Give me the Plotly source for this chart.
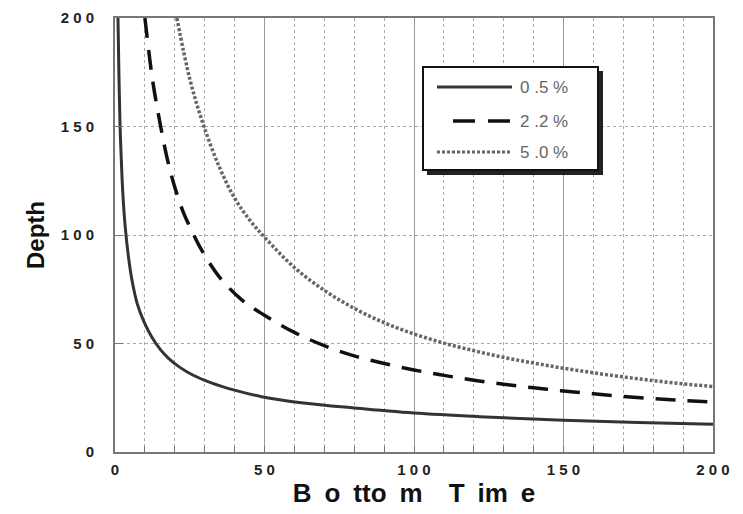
import plotly.graph_objects as go

# ---- data ----
x_05 = [1.0, 1.3, 1.7, 2.3, 2.8, 3.4, 4.5, 5.7, 7.5, 9.7, 12.5, 15, 18, 21.7, 26, 32, 40, 49, 63, 80, 100, 122, 150, 175, 200]
y_05 = [200, 175, 150, 128, 115, 104, 90, 79, 68, 60, 52.5, 47.5, 43, 39, 35.5, 32, 28.5, 25.5, 22.6, 20.3, 18, 16.3, 14.6, 13.6, 12.8]

x_22 = [10, 12.5, 15, 17.5, 20, 23, 26, 29, 35, 42.5, 50, 60, 70, 80, 90, 100, 110, 120, 130, 140, 150, 160, 170, 180, 190, 200]
y_22 = [200, 172, 152, 135, 122, 110, 101, 93, 80.5, 70, 63, 55.1, 49, 44.3, 40.8, 37.8, 35.3, 33.1, 31.2, 29.6, 28.1, 26.8, 25.6, 24.6, 23.7, 23]

x_50 = [20.7, 25, 29.5, 35, 40, 45, 50, 60, 70, 80, 90, 100, 110, 120, 130, 140, 150, 160, 170, 180, 190, 200]
y_50 = [200, 172, 151, 131, 117, 107, 99, 85, 74.5, 66.2, 59.6, 54.4, 50.2, 46.7, 43.6, 41, 38.6, 36.5, 34.6, 32.9, 31.4, 30.2]

series_names = ["0.5 %", "2.2 %", "5.0 %"]
legend_labels = ["0 .5 %", "2 .2 %", "5 .0 %"]
tick_vals = [0, 50, 100, 150, 200]
tick_text = ["0", "5 0", "1 0 0", "1 5 0", "2 0 0"]
x_title = "B\u2002o\u2002tto\u2002m\u2003T\u2002im\u2002e"
y_title = "Depth"

FONT = "Liberation Sans, Arial, sans-serif"

fig = go.Figure()
fig.add_trace(go.Scatter(x=x_05, y=y_05, mode="lines", name=series_names[0],
                         line=dict(color="#333333", width=3, shape="spline", smoothing=1.0)))
fig.add_trace(go.Scatter(x=x_22, y=y_22, mode="lines", name=series_names[1],
                         line=dict(color="#111111", width=3.5, dash="20px,12px", shape="spline", smoothing=1.0)))
fig.add_trace(go.Scatter(x=x_50, y=y_50, mode="lines", name=series_names[2],
                         line=dict(color="#666666", width=3.5, dash="3px,2px", shape="spline", smoothing=1.0)))

# The page body adds an 8px offset; sizes/margins compensate so the plot area
# lands at x 115..713, y 18..452 in the 743x514 window.
fig.update_layout(
    width=735, height=506,
    margin=dict(l=107, r=30, t=10, b=62, autoexpand=False),
    paper_bgcolor="white", plot_bgcolor="white",
    showlegend=False,
    font=dict(family=FONT, color="#222222"),
)

fig.update_xaxes(
    automargin=False,
    range=[0, 200], tickvals=tick_vals, ticktext=tick_text,
    showline=True, linecolor="#777777", linewidth=2, mirror=True,
    ticks="inside", ticklen=6, tickcolor="#777777", tickwidth=1,
    showgrid=True, gridcolor="#999999", gridwidth=1,
    minor=dict(dtick=10, showgrid=True, gridcolor="#aaaaaa", griddash="dot", gridwidth=1,
               ticks="inside", ticklen=6, tickcolor="#777777"),
    tickfont=dict(family=FONT, size=15, weight="bold", color="#222222"),
    ticklabelstandoff=3,
    zeroline=False,
    title=dict(text=x_title, font=dict(family=FONT, size=26, weight="bold", color="#111111"), standoff=6),
)
fig.update_yaxes(
    automargin=False,
    range=[0, 200], tickvals=tick_vals, ticktext=tick_text,
    showline=True, linecolor="#777777", linewidth=2, mirror=True,
    ticks="inside", ticklen=8, tickcolor="#777777", tickwidth=1,
    showgrid=True, gridcolor="#aaaaaa", griddash="dot", gridwidth=1,
    tickfont=dict(family=FONT, size=15, weight="bold", color="#222222"),
    ticklabelstandoff=16,
    zeroline=False,
    title=dict(text=y_title, font=dict(family=FONT, size=24, weight="bold", color="#111111"), standoff=9),
)

# ---- custom legend (box with drop shadow, long line samples) ----
# helpers convert window pixels to plot-area paper fractions
def px_x(p):
    return (p - 115) / 598.0

def px_y(p):
    return (452 - p) / 434.0

shapes = []
shapes.append(dict(type="rect", xref="paper", yref="paper",
                   x0=px_x(427), x1=px_x(603), y0=px_y(175), y1=px_y(71),
                   fillcolor="#222222", line=dict(width=0), layer="above"))
shapes.append(dict(type="rect", xref="paper", yref="paper",
                   x0=px_x(423), x1=px_x(598), y0=px_y(170), y1=px_y(67),
                   fillcolor="white", line=dict(color="#111111", width=2), layer="above"))
legend_rows = [87, 121, 152]
legend_styles = [
    dict(color="#333333", width=3, dash="solid"),
    dict(color="#111111", width=3.5, dash="22px,13px"),
    dict(color="#666666", width=3, dash="3px,2px"),
]
legend_x0 = [437, 453, 437]
for row, st, x0 in zip(legend_rows, legend_styles, legend_x0):
    shapes.append(dict(type="line", xref="paper", yref="paper",
                       x0=px_x(x0), x1=px_x(512), y0=px_y(row), y1=px_y(row),
                       line=st, layer="above"))
fig.update_layout(shapes=shapes)

for row, lab in zip(legend_rows, legend_labels):
    fig.add_annotation(xref="paper", yref="paper", x=px_x(518), y=px_y(row),
                       xanchor="left", yanchor="middle", showarrow=False,
                       text=lab, font=dict(family=FONT, size=17, color="#666666"))

fig.write_html("out.html")
